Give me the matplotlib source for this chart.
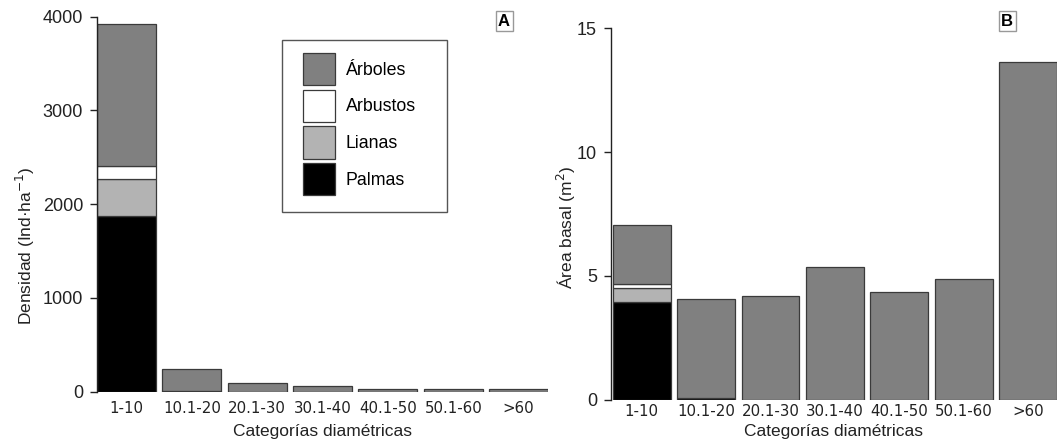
import matplotlib
matplotlib.use("Agg")
import matplotlib.pyplot as plt
from matplotlib.patches import Rectangle
import numpy as np

categories = ["1-10", "10.1-20", "20.1-30", "30.1-40", "40.1-50", "50.1-60", ">60"]
series_names = ["Palmas", "Lianas", "Arbustos", "Árboles"]
series_colors = ["#000000", "#b3b3b3", "#ffffff", "#808080"]

# Densidad (Ind·ha-1)
palmas_dens = [1875, 10, 0, 0, 0, 0, 0]
lianas_dens = [393, 0, 0, 0, 0, 0, 0]
arbustos_dens = [142, 0, 0, 0, 0, 0, 0]
arboles_dens = [1515, 229, 88, 59, 28, 24, 27]

# Área basal (m2)
palmas_ab = [3.92, 0.05, 0, 0, 0, 0, 0]
lianas_ab = [0.60, 0, 0, 0, 0, 0, 0]
arbustos_ab = [0.15, 0, 0, 0, 0, 0, 0]
arboles_ab = [2.37, 4.03, 4.17, 5.36, 4.33, 4.88, 13.64]

dens_ticks = [0, 1000, 2000, 3000, 4000]
ab_ticks = [0, 5, 10, 15]

plt.rcParams["font.family"] = ["Liberation Sans", "DejaVu Sans"]

W, H = 1057, 441
fig = plt.figure(figsize=(W / 100, H / 100), dpi=100)


def frac_box(left, right, top, bottom):
    return [left / W, 1 - bottom / H, (right - left) / W, (bottom - top) / H]


ax_a = fig.add_axes(frac_box(97, 548, 16.7, 391.5))
ax_b = fig.add_axes(frac_box(611, 1057, 28.3, 399.5))

x = np.arange(len(categories))
edge = "#3a3a3a"
txt = "#222222"


def stacked(ax, layers):
    bottom = np.zeros(len(categories))
    handles = []
    for name, vals, col in zip(series_names, layers, series_colors):
        vals = np.asarray(vals, dtype=float)
        h = ax.bar(x, vals, width=0.9, bottom=bottom, color=col,
                   edgecolor=edge, linewidth=0.9, label=name, zorder=2)
        handles.append(h)
        bottom = bottom + vals
    return handles


handles = stacked(ax_a, [palmas_dens, lianas_dens, arbustos_dens, arboles_dens])
stacked(ax_b, [palmas_ab, lianas_ab, arbustos_ab, arboles_ab])

for ax, ticks, xpad in ((ax_a, dens_ticks, 7), (ax_b, ab_ticks, 3.5)):
    ax.set_ylim(ticks[0], ticks[-1])
    ax.set_yticks(ticks)
    ax.set_xticks(x)
    ax.set_xticklabels(categories, family="DejaVu Sans", fontsize=10.8)
    for s in ("top", "right", "bottom"):
        ax.spines[s].set_visible(False)
    ax.spines["left"].set_color(txt)
    ax.spines["left"].set_linewidth(1.0)
    ax.tick_params(axis="x", length=0, pad=xpad, colors=txt)
    ax.tick_params(axis="y", length=5, width=1.0, pad=5, labelsize=13,
                   colors=txt)
    ax.set_xlabel("Categorías diamétricas", fontsize=12.5, color=txt)

ax_a.xaxis.set_label_coords(0.5, -0.086)
ax_b.xaxis.set_label_coords(0.5, -0.066)

ax_a.set_xlim(-0.45, 6.45)
ax_b.set_xlim(-0.477, 6.45)

ax_a.set_ylabel("Densidad (Ind·ha$^{-1}$)", fontsize=12.5, color=txt)
ax_a.yaxis.set_label_coords(-0.134, 0.39)
ax_b.set_ylabel("Área basal (m$^2$)", fontsize=12.5, color=txt)
ax_b.yaxis.set_label_coords(-0.075, 0.465)

# legend: entries listed top to bottom, framed by a plain rectangle
leg_handles = handles[::-1]
leg_labels = series_names[::-1]
leg = ax_a.legend(leg_handles, leg_labels,
                  bbox_to_anchor=(303 / W, 1 - 53 / H),
                  bbox_transform=fig.transFigure, loc="upper left",
                  fontsize=12.8, handlelength=1.8, handleheight=2.4,
                  handletextpad=0.6, labelspacing=0.26, borderpad=0,
                  borderaxespad=0, frameon=False)
fig.patches.append(Rectangle((282 / W, 1 - 212 / H), 165 / W, 172 / H,
                             transform=fig.transFigure, fill=True,
                             facecolor="none", edgecolor="#555555",
                             linewidth=1.0, zorder=5))

box = dict(boxstyle="square,pad=0.15", facecolor="white",
           edgecolor="#999999", linewidth=1.0)
fig.text(504 / W, 1 - 21 / H, "A", ha="center", va="center", fontsize=12,
         fontweight="bold", bbox=box)
fig.text(1007 / W, 1 - 21 / H, "B", ha="center", va="center", fontsize=12,
         fontweight="bold", bbox=box)

fig.savefig("out.png", dpi=100)
